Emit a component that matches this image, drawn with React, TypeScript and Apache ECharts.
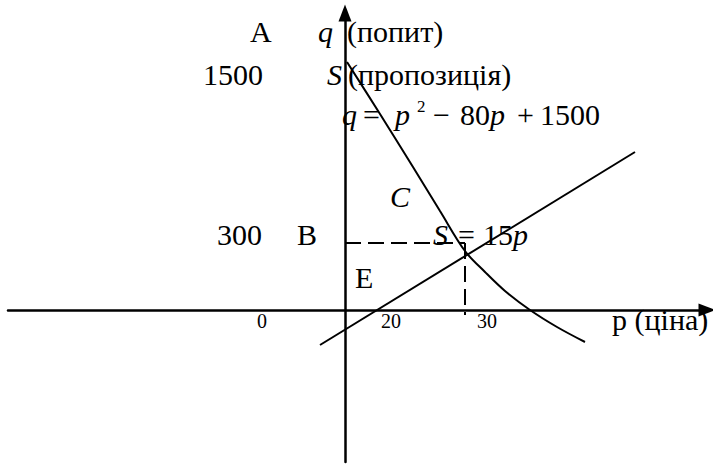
import React, { useEffect, useRef } from "react";
import * as echarts from "echarts";

// Coordinates: origin at the axes crossing, 1 unit ≈ 1 px of the reference drawing
const demandCurve: [number, number][] = [
  [2, 248], [35, 196], [68, 143], [95, 99],
  [120, 59], [140, 38], [160, 19], [185, 0], [212, -17], [240, -32],
];
const supplyLine: [number, number][] = [
  [-25, -35], [290, 158],
];
const equilibrium: [number, number] = [120, 67];
const xTickLabels = ["0", "20", "30"];
const yValueLabels = ["1500", "300"];
const pointLabels = ["A", "B", "C", "E"];
const axisNames = ["(попит)", "(пропозиція)", "p (ціна)"];

const FONT = "Liberation Serif";
const FS = 30;

function t(text: string, x: number, baseline: number, opts: any = {}) {
  const size = opts.size ?? FS;
  const style: any = {
    text,
    fill: "#000",
    fontFamily: FONT,
    fontSize: size,
    align: opts.align ?? "left",
    verticalAlign: "middle",
  };
  if (opts.italic) style.fontStyle = "italic";
  return {
    type: "text",
    x,
    y: baseline - size * 0.3375,
    z: 10,
    style,
  };
}

export default function App() {
  const ref = useRef<HTMLDivElement>(null);
  useEffect(() => {
    if (!ref.current) return;
    const chart = echarts.init(ref.current, null, { renderer: "svg" });
    const axisCommon = {
      type: "value",
      axisTick: { show: false },
      axisLabel: { show: false },
      splitLine: { show: false },
    };
    const axisLine = {
      onZero: true,
      symbol: ["none", "triangle"],
      symbolSize: [13, 17],
      lineStyle: { color: "#000", width: 2.5 },
    };
    const lineStyle = { color: "#000", width: 2 };
    chart.setOption({
      animation: false,
      backgroundColor: "#fff",
      textStyle: { fontFamily: FONT },
      grid: { left: 8, top: 13, width: 699, height: 449 },
      xAxis: { ...axisCommon, min: -337, max: 362, axisLine },
      yAxis: { ...axisCommon, min: -152, max: 297, axisLine },
      series: [
        {
          type: "line",
          data: demandCurve,
          smooth: 0.35,
          showSymbol: false,
          lineStyle,
        },
        {
          type: "line",
          data: supplyLine,
          showSymbol: false,
          lineStyle,
        },
        {
          type: "line",
          data: [[0, equilibrium[1]], equilibrium],
          showSymbol: false,
          lineStyle: { color: "#000", width: 2, type: [16, 7] },
        },
        {
          type: "line",
          data: [equilibrium, [equilibrium[0], -5]],
          showSymbol: false,
          lineStyle: { color: "#000", width: 2, type: [16, 7] },
        },
      ],
      graphic: [
        t(pointLabels[0], 250, 42),
        t("q", 318, 42, { italic: true }),
        t(axisNames[0], 347, 42),
        t(yValueLabels[0], 203, 85),
        t("S", 327, 85, { italic: true }),
        t(axisNames[1], 348, 85),
        // q = p^2 − 80p + 1500
        t("q", 342, 125, { italic: true }),
        t("=", 363, 125),
        t("p", 395, 125, { italic: true }),
        t("2", 417, 112, { size: 17 }),
        t("−", 433, 125),
        t("80", 460, 125),
        t("p", 490, 125, { italic: true }),
        t("+", 517, 125),
        t("1500", 540, 125),
        t(pointLabels[2], 390, 207, { italic: true }),
        t(yValueLabels[1], 217, 245),
        t(pointLabels[1], 297, 245),
        // S = 15p
        t("S", 433, 245, { italic: true }),
        t("=", 458, 245),
        t("15", 483, 245),
        t("p", 513, 245, { italic: true }),
        t(pointLabels[3], 355, 288),
        t(xTickLabels[0], 262, 328, { size: 20, align: "center" }),
        t(xTickLabels[1], 391, 328, { size: 20, align: "center" }),
        t(xTickLabels[2], 487, 328, { size: 20, align: "center" }),
        t(axisNames[2], 612, 330),
      ],
    });
    return () => chart.dispose();
  }, []);
  return (
    <div
      ref={ref}
      style={{ position: "fixed", left: 0, top: 0, width: 713, height: 465, background: "#fff" }}
    />
  );
}
